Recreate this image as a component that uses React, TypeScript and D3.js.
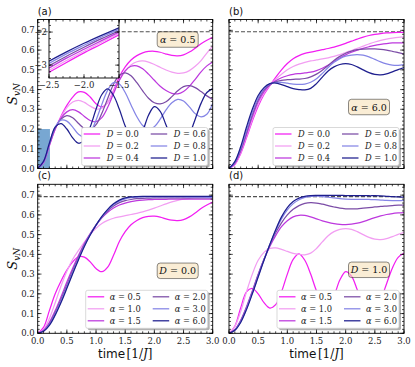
import React, { useRef, useEffect } from 'react';
import * as d3 from 'd3';

// time grid shared by every curve
const TIME = [0, 0.1, 0.2, 0.3, 0.4, 0.5, 0.6, 0.7, 0.8, 0.9, 1.0, 1.1, 1.2, 1.3, 1.4, 1.5, 1.6, 1.7, 1.8, 1.9, 2.0,
  2.1, 2.2, 2.3, 2.4, 2.5, 2.6, 2.7, 2.8, 2.9, 3.0];

const COLORS = ['#f21ef2', '#f29ef2', '#bd38de', '#7b4ca6', '#8585e6', '#1e1e8e'];
const D_VALUES = ['0.0', '0.2', '0.4', '0.6', '0.8', '1.0'];
const ALPHA_VALUES = ['0.5', '1.0', '1.5', '2.0', '3.0', '6.0'];
const X_TICKS = [0, 0.5, 1.0, 1.5, 2.0, 2.5, 3.0];
const Y_TICKS = [0, 0.1, 0.2, 0.3, 0.4, 0.5, 0.6, 0.7];
const LN2 = 0.693;

// alpha = 0.5, varying D   (panel a; D=0 reused in c, D=1 reused in d)
const A05_D00 = [0, 0.03, 0.115, 0.2, 0.265, 0.32, 0.362, 0.388, 0.386, 0.362, 0.328, 0.312, 0.335, 0.395, 0.465, 0.515,
  0.55, 0.572, 0.586, 0.593, 0.594, 0.589, 0.58, 0.573, 0.571, 0.576, 0.59, 0.61, 0.632, 0.65, 0.665];
const A05_D02 = [0, 0.032, 0.118, 0.2, 0.26, 0.308, 0.337, 0.345, 0.335, 0.316, 0.302, 0.305, 0.335, 0.39, 0.447, 0.494,
  0.525, 0.541, 0.545, 0.539, 0.527, 0.513, 0.499, 0.488, 0.482, 0.484, 0.496, 0.518, 0.547, 0.585, 0.62];
const A05_D04 = [0, 0.033, 0.12, 0.2, 0.255, 0.287, 0.298, 0.287, 0.264, 0.243, 0.237, 0.258, 0.31, 0.38, 0.447, 0.495,
  0.518, 0.52, 0.505, 0.478, 0.447, 0.417, 0.395, 0.381, 0.378, 0.39, 0.416, 0.452, 0.49, 0.52, 0.54];
const A05_D06 = [0, 0.034, 0.122, 0.205, 0.25, 0.268, 0.257, 0.228, 0.203, 0.198, 0.222, 0.28, 0.355, 0.427, 0.472, 0.485,
  0.47, 0.435, 0.393, 0.356, 0.333, 0.327, 0.338, 0.364, 0.394, 0.415, 0.42, 0.41, 0.39, 0.368, 0.35];
const A05_D08 = [0, 0.035, 0.125, 0.21, 0.245, 0.24, 0.21, 0.173, 0.158, 0.182, 0.245, 0.325, 0.397, 0.435, 0.428, 0.385,
  0.322, 0.262, 0.218, 0.2, 0.212, 0.25, 0.297, 0.333, 0.35, 0.342, 0.312, 0.278, 0.262, 0.275, 0.33];
const A05_D10 = [0, 0.036, 0.128, 0.21, 0.227, 0.2, 0.155, 0.128, 0.145, 0.21, 0.3, 0.375, 0.403, 0.37, 0.3, 0.215,
  0.155, 0.143, 0.19, 0.27, 0.313, 0.29, 0.22, 0.15, 0.108, 0.115, 0.17, 0.25, 0.33, 0.385, 0.405];

// panel b, varying D (D=0 reused in c, D=1 reused in d)
const B_D00 = [0, 0.02, 0.075, 0.155, 0.24, 0.315, 0.375, 0.42, 0.462, 0.5, 0.532, 0.556, 0.572, 0.583, 0.59, 0.596,
  0.602, 0.608, 0.615, 0.624, 0.634, 0.645, 0.656, 0.666, 0.674, 0.68, 0.684, 0.687, 0.689, 0.69, 0.69];
const B_D02 = [0, 0.022, 0.08, 0.163, 0.25, 0.325, 0.382, 0.421, 0.452, 0.478, 0.5, 0.517, 0.529, 0.538, 0.545, 0.55,
  0.555, 0.561, 0.568, 0.577, 0.587, 0.598, 0.609, 0.62, 0.631, 0.641, 0.649, 0.656, 0.661, 0.665, 0.667];
const B_D04 = [0, 0.025, 0.087, 0.172, 0.262, 0.338, 0.39, 0.423, 0.445, 0.46, 0.47, 0.477, 0.481, 0.484, 0.488, 0.496,
  0.508, 0.524, 0.542, 0.56, 0.576, 0.589, 0.6, 0.609, 0.617, 0.624, 0.629, 0.633, 0.636, 0.637, 0.636];
const B_D06 = [0, 0.028, 0.095, 0.183, 0.273, 0.348, 0.398, 0.425, 0.44, 0.447, 0.45, 0.452, 0.453, 0.456, 0.464, 0.478,
  0.498, 0.522, 0.547, 0.568, 0.584, 0.595, 0.602, 0.605, 0.606, 0.606, 0.604, 0.6, 0.594, 0.587, 0.58];
const B_D08 = [0, 0.031, 0.102, 0.195, 0.285, 0.357, 0.404, 0.428, 0.436, 0.436, 0.432, 0.428, 0.426, 0.428, 0.437, 0.455,
  0.482, 0.512, 0.538, 0.557, 0.569, 0.575, 0.577, 0.574, 0.566, 0.553, 0.54, 0.53, 0.524, 0.523, 0.527];
const B_D10 = [0, 0.035, 0.11, 0.21, 0.3, 0.37, 0.41, 0.43, 0.433, 0.425, 0.415, 0.405, 0.4, 0.398, 0.406, 0.43,
  0.463, 0.494, 0.515, 0.527, 0.531, 0.527, 0.515, 0.5, 0.486, 0.477, 0.475, 0.48, 0.49, 0.501, 0.511];

// panel c, D = 0.0
const C_A15 = [0, 0.015, 0.055, 0.115, 0.185, 0.26, 0.33, 0.395, 0.455, 0.505, 0.548, 0.585, 0.613, 0.635, 0.65, 0.66,
  0.667, 0.672, 0.675, 0.677, 0.678, 0.679, 0.679, 0.68, 0.68, 0.68, 0.68, 0.68, 0.68, 0.68, 0.68];
const C_A20 = [0, 0.012, 0.048, 0.105, 0.172, 0.245, 0.318, 0.385, 0.448, 0.502, 0.548, 0.587, 0.62, 0.645, 0.662, 0.672,
  0.678, 0.682, 0.684, 0.685, 0.686, 0.686, 0.686, 0.686, 0.686, 0.686, 0.686, 0.686, 0.686, 0.686, 0.686];
const C_A30 = [0, 0.011, 0.044, 0.098, 0.163, 0.235, 0.308, 0.378, 0.444, 0.5, 0.548, 0.59, 0.625, 0.652, 0.67, 0.681,
  0.687, 0.69, 0.691, 0.691, 0.691, 0.691, 0.691, 0.691, 0.691, 0.691, 0.69, 0.69, 0.69, 0.689, 0.689];
const C_A60 = [0, 0.01, 0.04, 0.092, 0.156, 0.228, 0.302, 0.373, 0.44, 0.498, 0.548, 0.592, 0.628, 0.656, 0.675, 0.686,
  0.691, 0.693, 0.694, 0.694, 0.694, 0.694, 0.694, 0.694, 0.694, 0.694, 0.694, 0.694, 0.694, 0.694, 0.694];

// panel d, D = 1.0
const D_A15 = [0, 0.019, 0.066, 0.135, 0.215, 0.3, 0.375, 0.44, 0.495, 0.54, 0.57, 0.59, 0.598, 0.597, 0.59, 0.58,
  0.57, 0.562, 0.556, 0.552, 0.551, 0.553, 0.558, 0.566, 0.576, 0.586, 0.595, 0.602, 0.607, 0.61, 0.612];
const D_A20 = [0, 0.017, 0.062, 0.13, 0.21, 0.295, 0.375, 0.448, 0.51, 0.56, 0.6, 0.628, 0.647, 0.658, 0.662, 0.66,
  0.654, 0.647, 0.64, 0.634, 0.631, 0.63, 0.631, 0.634, 0.637, 0.64, 0.643, 0.645, 0.647, 0.649, 0.65];
const D_A30 = [0, 0.016, 0.058, 0.125, 0.205, 0.29, 0.373, 0.45, 0.52, 0.58, 0.625, 0.657, 0.677, 0.689, 0.694, 0.695,
  0.693, 0.69, 0.686, 0.682, 0.68, 0.679, 0.679, 0.679, 0.678, 0.677, 0.675, 0.673, 0.672, 0.672, 0.673];
const D_A60 = [0, 0.015, 0.055, 0.12, 0.2, 0.285, 0.37, 0.45, 0.525, 0.59, 0.637, 0.668, 0.685, 0.694, 0.698, 0.699,
  0.699, 0.699, 0.699, 0.699, 0.698, 0.698, 0.698, 0.698, 0.697, 0.697, 0.696, 0.694, 0.692, 0.691, 0.69];

// inset of panel a: log10 S vs log10 t
const INSET_X = [-2.5, -2.25, -2.0, -1.75, -1.5];
const INSET_D00 = [-3.22, -2.92, -2.63, -2.36, -2.08];
const INSET_D02 = [-3.16, -2.86, -2.58, -2.31, -2.04];
const INSET_D04 = [-3.09, -2.79, -2.52, -2.26, -2.0];
const INSET_D06 = [-3.02, -2.73, -2.46, -2.2, -1.96];
const INSET_D08 = [-2.95, -2.66, -2.4, -2.15, -1.92];
const INSET_D10 = [-2.88, -2.6, -2.34, -2.1, -1.87];
const INSET_X_TICKS = [-2.5, -2.0, -1.5];
const INSET_Y_TICKS = [-3, -2];

const PANELS = [
  { tag: '(a)', col: 0, row: 0, series: [A05_D00, A05_D02, A05_D04, A05_D06, A05_D08, A05_D10], sym: 'D', vals: D_VALUES, boxSym: 'α', boxVal: '0.5', boxY: 20, xl: false, yl: true, inset: true },
  { tag: '(b)', col: 1, row: 0, series: [B_D00, B_D02, B_D04, B_D06, B_D08, B_D10], sym: 'D', vals: D_VALUES, boxSym: 'α', boxVal: '6.0', boxY: 87.5, xl: false, yl: false, inset: false },
  { tag: '(c)', col: 0, row: 1, series: [A05_D00, B_D00, C_A15, C_A20, C_A30, C_A60], sym: 'α', vals: ALPHA_VALUES, boxSym: 'D', boxVal: '0.0', boxY: 86.5, xl: true, yl: true, inset: false },
  { tag: '(d)', col: 1, row: 1, series: [A05_D10, B_D10, D_A15, D_A20, D_A30, D_A60], sym: 'α', vals: ALPHA_VALUES, boxSym: 'D', boxVal: '1.0', boxY: 85.5, xl: true, yl: false, inset: false },
];

const COL_X = [37.7, 229];
const ROW_Y = [19.5, 184.3];
const PW = 175;
const PH = 149;
const SERIF = 'DejaVu Serif';

export default function App() {
  const svgRef = useRef<SVGSVGElement>(null);

  useEffect(() => {
    if (!svgRef.current) return;
    const svg = d3.select(svgRef.current);
    svg.selectAll('*').remove();
    const defs = svg.append('defs');
    svg.append('rect').attr('width', 415).attr('height', 367).attr('fill', '#fff');

    const ticks = (g: any, x: any, y: any, L: number, R: number, T: number, B: number, xMaj: number[], xMin: number[], yMaj: number[], yMin: number[]) => {
      const tk = (x1: number, y1: number, x2: number, y2: number) =>
        g.append('line').attr('x1', x1).attr('y1', y1).attr('x2', x2).attr('y2', y2).attr('stroke', '#000').attr('stroke-width', 0.7);
      xMin.forEach(v => { tk(x(v), B, x(v), B - 2); tk(x(v), T, x(v), T + 2); });
      xMaj.forEach(v => { tk(x(v), B, x(v), B - 3.8); tk(x(v), T, x(v), T + 3.8); });
      yMin.forEach(v => { tk(L, y(v), L + 2, y(v)); tk(R, y(v), R - 2, y(v)); });
      yMaj.forEach(v => { tk(L, y(v), L + 3.8, y(v)); tk(R, y(v), R - 3.8, y(v)); });
    };

    PANELS.forEach((p, i) => {
      const L = COL_X[p.col], T = ROW_Y[p.row], R = L + PW, B = T + PH;
      const x = d3.scaleLinear().domain([0, 3]).range([L, R]);
      const y = d3.scaleLinear().domain([0, 0.755]).range([B, T]);
      const g = svg.append('g');
      defs.append('clipPath').attr('id', `clip${i}`).append('rect').attr('x', L).attr('y', T).attr('width', PW).attr('height', PH);
      const cg = g.append('g').attr('clip-path', `url(#clip${i})`);

      if (p.inset) {
        cg.append('rect').attr('x', x(0)).attr('y', y(0.2)).attr('width', x(0.21) - x(0)).attr('height', y(0) - y(0.2))
          .attr('fill', '#78a7d2');
      }
      cg.append('line').attr('x1', x(0)).attr('x2', x(3)).attr('y1', y(LN2)).attr('y2', y(LN2))
        .attr('stroke', '#505050').attr('stroke-width', 1.2).attr('stroke-dasharray', '4,2');

      const line = d3.line<number>().x((_, k) => x(TIME[k])).y(v => y(v)).curve(d3.curveCatmullRom.alpha(0.5));
      p.series.forEach((s, k) => {
        cg.append('path').attr('d', line(s)).attr('fill', 'none').attr('stroke', COLORS[k]).attr('stroke-width', 1.25);
      });

      g.append('rect').attr('x', L).attr('y', T).attr('width', PW).attr('height', PH).attr('fill', 'none').attr('stroke', '#000').attr('stroke-width', 0.9);
      ticks(g, x, y, L, R, T, B, X_TICKS, d3.range(0, 3.001, 0.1), Y_TICKS, d3.range(0, 0.751, 0.02));

      if (p.xl) {
        X_TICKS.forEach(t => g.append('text').attr('x', x(t)).attr('y', B + 7.5).attr('text-anchor', 'middle').attr('dominant-baseline', 'central')
          .attr('font-family', SERIF).attr('font-size', 8.5).attr('fill', '#222').text(t.toFixed(1)));
        const xt = g.append('text').attr('x', (L + R) / 2).attr('y', 358).attr('text-anchor', 'middle').attr('font-size', 12).attr('fill', '#111');
        xt.append('tspan').attr('font-family', 'DejaVu Sans').text('time');
        xt.append('tspan').attr('font-family', SERIF).attr('dx', 1.5).text('[1/');
        xt.append('tspan').attr('font-family', SERIF).attr('font-style', 'italic').text('J');
        xt.append('tspan').attr('font-family', SERIF).text(']');
      }
      if (p.yl) {
        Y_TICKS.forEach(t => g.append('text').attr('x', L - 3).attr('y', y(t)).attr('text-anchor', 'end').attr('dominant-baseline', 'central')
          .attr('font-family', SERIF).attr('font-size', 8.5).attr('fill', '#222').text(t.toFixed(1)));
        const yt = g.append('text').attr('transform', `translate(16.5,${(T + B) / 2}) rotate(-90)`).attr('text-anchor', 'middle')
          .attr('font-family', SERIF).attr('font-style', 'italic').attr('fill', '#111');
        yt.append('tspan').attr('font-size', 13).text('S');
        yt.append('tspan').attr('font-size', 9).attr('dy', 3).text('vN');
      }
      g.append('text').attr('x', L).attr('y', p.row ? 178.5 : 15).attr('font-family', 'DejaVu Sans').attr('font-size', 10).attr('fill', '#111').text(p.tag);

      // legend
      const isD = p.sym === 'D';
      const lw = isD ? 126 : 122;
      const lh = 38;
      const lx = R - 5 - lw;
      const ly = B - (isD ? 41 : 43);
      g.append('rect').attr('x', lx + 2).attr('y', ly + 2).attr('width', lw).attr('height', lh).attr('rx', 2).attr('fill', '#000').attr('opacity', 0.3);
      g.append('rect').attr('x', lx).attr('y', ly).attr('width', lw).attr('height', lh).attr('rx', 2)
        .attr('fill', '#fff').attr('stroke', '#cfcfcf').attr('stroke-width', 0.8);
      p.vals.forEach((v, k) => {
        const c = Math.floor(k / 3), r = k % 3;
        const cy = ly + 6.5 + r * 12;
        const x0 = lx + (c ? (isD ? 69 : 67) : 2);
        g.append('line').attr('x1', x0).attr('x2', x0 + 16.5).attr('y1', cy).attr('y2', cy).attr('stroke', COLORS[k]).attr('stroke-width', 1.25);
        const t = g.append('text').attr('x', x0 + (isD ? 23 : 22)).attr('y', cy + 3).attr('font-family', SERIF).attr('font-size', 8.3).attr('fill', '#222');
        t.append('tspan').attr('font-style', 'italic').text(p.sym);
        t.append('tspan').text(` = ${v}`);
      });

      // parameter box
      const bw = 41, bh = 15.5;
      const bx = L + 140 - bw / 2, by = T + p.boxY - bh / 2;
      g.append('rect').attr('x', bx).attr('y', by).attr('width', bw).attr('height', bh).attr('rx', 3)
        .attr('fill', '#f5deb3').attr('fill-opacity', 0.55).attr('stroke', '#000').attr('stroke-opacity', 0.5).attr('stroke-width', 0.9);
      const bt = g.append('text').attr('x', bx + bw / 2).attr('y', by + bh / 2 + 3.5).attr('text-anchor', 'middle')
        .attr('font-family', SERIF).attr('font-size', 9.5).attr('fill', '#111');
      bt.append('tspan').attr('font-style', 'italic').text(p.boxSym);
      bt.append('tspan').text(` = ${p.boxVal}`);

      if (p.inset) {
        const IL = 49, IR = 119, IT = T, IB = 78;
        const xi = d3.scaleLinear().domain([-2.5, -1.5]).range([IL, IR]);
        const yi = d3.scaleLinear().domain([-3.39, -1.62]).range([IB, IT]);
        const ig = svg.append('g');
        defs.append('clipPath').attr('id', 'clipInset').append('rect').attr('x', IL).attr('y', IT).attr('width', IR - IL).attr('height', IB - IT);
        ig.append('rect').attr('x', IL).attr('y', IT).attr('width', IR - IL).attr('height', IB - IT).attr('fill', '#fff');
        const il = d3.line<number>().x((_, k) => xi(INSET_X[k])).y(v => yi(v)).curve(d3.curveMonotoneX);
        const icg = ig.append('g').attr('clip-path', 'url(#clipInset)');
        [INSET_D00, INSET_D02, INSET_D04, INSET_D06, INSET_D08, INSET_D10].forEach((s, k) => {
          icg.append('path').attr('d', il(s)).attr('fill', 'none').attr('stroke', COLORS[k]).attr('stroke-width', 1.25);
        });
        ig.append('rect').attr('x', IL).attr('y', IT).attr('width', IR - IL).attr('height', IB - IT).attr('fill', 'none').attr('stroke', '#000').attr('stroke-width', 0.9);
        ticks(ig, xi, yi, IL, IR, IT, IB, INSET_X_TICKS, d3.range(-2.5, -1.499, 0.1), INSET_Y_TICKS, d3.range(-3.2, -1.7, 0.2));
        INSET_X_TICKS.forEach(t => ig.append('text').attr('x', xi(t)).attr('y', IB + 6.5).attr('text-anchor', 'middle').attr('dominant-baseline', 'central')
          .attr('font-family', SERIF).attr('font-size', 8.5).attr('fill', '#222').text(`−${Math.abs(t).toFixed(1)}`));
        INSET_Y_TICKS.forEach(t => ig.append('text').attr('x', IL - 2).attr('y', yi(t)).attr('text-anchor', 'end').attr('dominant-baseline', 'central')
          .attr('font-family', SERIF).attr('font-size', 8.5).attr('fill', '#222').text(`−${Math.abs(t)}`));
      }
    });
  }, []);

  return (
    <svg ref={svgRef} width={415} height={367} style={{ position: 'absolute', left: 0, top: 0, display: 'block' }} />
  );
}
